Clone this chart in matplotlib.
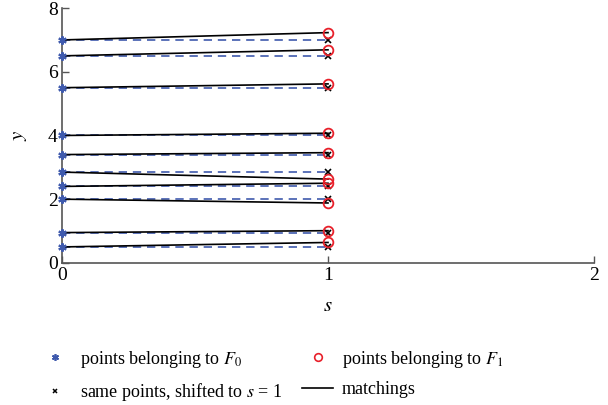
import numpy as np
import matplotlib
matplotlib.use("Agg")
import matplotlib.pyplot as plt
from matplotlib.lines import Line2D

# points of F0 (at s = 0) and their matched points of F1 (at s = 1)
y_f0 = [7.0, 6.5, 5.5, 4.0, 3.4, 2.85, 2.4, 2.0, 0.95, 0.5]
y_f1 = [7.23, 6.69, 5.62, 4.07, 3.46, 2.63, 2.50, 1.88, 1.01, 0.64]
s0, s1 = 0, 1

plt.rcParams["font.family"] = ["Liberation Serif", "DejaVu Serif"]
plt.rcParams["mathtext.fontset"] = "stix"

blue = "#3f5aad"
red = "#e8202a"
spine_col = "#555555"

fig = plt.figure(figsize=(6.08, 4.05), dpi=100)
ax = fig.add_axes([0.102, 0.351, 0.875, 0.629])

for a, b in zip(y_f0, y_f1):
    ax.plot([s0, s1], [a, a], color=blue, ls=(0, (5, 3.5)), lw=1.2, zorder=2)
    ax.plot([s0, s1], [a, b], color="black", lw=1.2, zorder=3)
ax.plot([s1] * len(y_f0), y_f0, ls="none", marker="x", color="black", ms=4, mew=1.2, zorder=4)
ax.plot([s1] * len(y_f1), y_f1, ls="none", marker="o", mfc="none", mec=red, ms=7, mew=1.3, zorder=5)
ax.plot([s0] * len(y_f0), y_f0, ls="none", marker=(6, 2, 0), color=blue, ms=6, mew=1.5, zorder=6, clip_on=False)

ax.set_xlim(0, 2)
ax.set_ylim(0, 8)
ax.set_xticks([0, 1, 2])
ax.set_yticks([0, 2, 4, 6, 8])
for side in ["top", "right"]:
    ax.spines[side].set_visible(False)
for side in ["left", "bottom"]:
    ax.spines[side].set_color(spine_col)
    ax.spines[side].set_linewidth(1.2)
ax.tick_params(direction="in", length=5, width=1.0, color=spine_col, labelsize=14, pad=3)
ax.set_xlabel("$s$", fontsize=15, labelpad=9)
ax.set_ylabel("$y$", fontsize=15, labelpad=14)

handles = [
    Line2D([], [], ls="none", marker=(6, 2, 0), color=blue, ms=5, mew=1.2),
    Line2D([], [], ls="none", marker="x", color="black", ms=3.5, mew=1.1),
    Line2D([], [], ls="none", marker="o", mfc="none", mec=red, ms=5.5, mew=1.2),
    Line2D([], [], color="black", lw=1.2),
]
labels = [
    "points belonging to $F_0$",
    "same points, shifted to $s$ = 1",
    "points belonging to $F_1$",
    "matchings",
]
fig.legend(handles, labels, ncol=2, loc="lower left", bbox_to_anchor=(0.039, -0.035),
           frameon=False, fontsize=13, handlelength=1.7, columnspacing=1.1,
           labelspacing=0.62, handletextpad=0.5)

fig.savefig("out.png", dpi=100)
